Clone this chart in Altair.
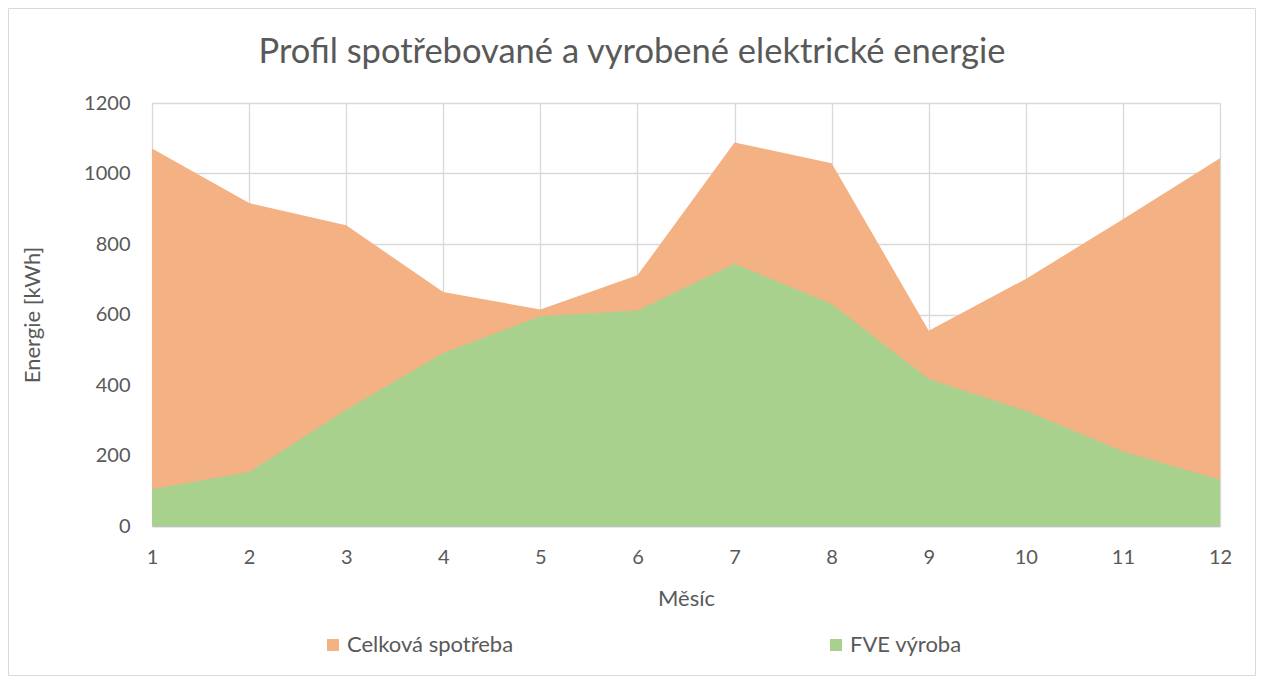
import altair as alt
import pandas as pd

# Data
mesic = list(range(1, 13))
celkova_spotreba = [1071, 916, 853, 664, 614, 711, 1088, 1029, 554, 701, 870, 1043]
fve_vyroba = [104, 153, 330, 491, 595, 611, 744, 630, 417, 327, 211, 131]
series_names = ["Celková spotřeba", "FVE výroba"]
series_colors = ["#F4B183", "#A9D18E"]
y_ticks = [0, 200, 400, 600, 800, 1000, 1200]

rows = []
for m, c, f in zip(mesic, celkova_spotreba, fve_vyroba):
    rows.append({"Mesic": m, "Serie": series_names[0], "Energie": c})
    rows.append({"Mesic": m, "Serie": series_names[1], "Energie": f})
df = pd.DataFrame(rows)

FONT = "Lato"
TXT = "#595959"
W, H = 1068, 423

areas = alt.Chart(df).mark_area(opacity=1).encode(
    x=alt.X(
        "Mesic:Q",
        scale=alt.Scale(domain=[1, 12], nice=False, zero=False),
        axis=alt.Axis(
            values=mesic, format="d", title="Měsíc", grid=True, ticks=False, tickSize=0,
            labelPadding=21, labelFlush=False, domain=True, domainColor="#bfbfbf", domainWidth=1.5,
            titleX=W / 2, titleY=72, titleBaseline="middle", titleAnchor="middle",
        ),
    ),
    y=alt.Y(
        "Energie:Q",
        stack=None,
        scale=alt.Scale(domain=[0, 1200], nice=False),
        axis=alt.Axis(
            values=y_ticks, format="d", title="Energie [kWh]", grid=True, ticks=False, tickSize=0,
            labelPadding=22, domain=False,
            titleX=-120, titleY=H / 2, titleAngle=-90, titleBaseline="middle",
            titleAnchor="middle", titleAlign="center",
        ),
    ),
    color=alt.Color(
        "Serie:N",
        scale=alt.Scale(domain=series_names, range=series_colors),
        legend=alt.Legend(
            title=None, orient="none", legendX=170, legendY=531, direction="horizontal",
            symbolType="square", symbolSize=144, symbolStrokeWidth=0, symbolOpacity=1,
            labelFontSize=22, labelFont=FONT, labelColor=TXT, labelOffset=3, labelLimit=400,
            columnPadding=311,
        ),
    ),
    order=alt.Order("Serie:N"),
)

frame = alt.Chart(pd.DataFrame({"a": [0]})).mark_rect(
    fill="transparent", stroke="#d9d9d9", strokeWidth=1
).encode(
    x=alt.value(-143.5), x2=alt.value(W + 35.5), y=alt.value(-94.5), y2=alt.value(H + 149.5)
)

chart = alt.layer(frame, areas).properties(
    width=W,
    height=H,
    autosize=alt.AutoSizeParams(type="none"),
    padding={"left": 144, "top": 95, "right": 36, "bottom": 150},
    background="white",
    title=alt.TitleParams(
        "Profil spotřebované a vyrobené elektrické energie",
        font=FONT, fontSize=34.5, fontWeight="normal", color=TXT,
        anchor="middle", dx=-54, offset=30, dy=92,
    ),
).configure_axis(
    labelFont=FONT, labelFontSize=20, labelColor=TXT,
    titleFont=FONT, titleFontSize=22, titleColor=TXT, titleFontWeight="normal",
    gridColor="#d9d9d9", gridWidth=1.3,
).configure_view(stroke=None)

chart.save("out.html", embed_options={"renderer": "svg", "actions": False})
